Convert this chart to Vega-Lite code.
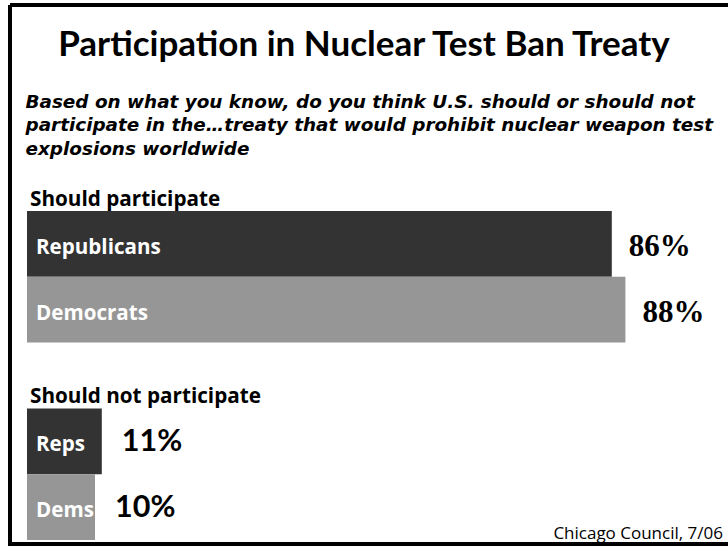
{
  "$schema": "https://vega.github.io/schema/vega-lite/v6.json",
  "width": 718,
  "height": 539,
  "autosize": {"type": "none"},
  "padding": {"left": 10, "top": 5, "right": 0, "bottom": 6},
  "background": "white",
  "view": {"stroke": "black", "strokeWidth": 4, "strokeDash": [718, 539, 1257, 0], "strokeDashOffset": 0},
  "title": {
    "text": "Participation in Nuclear Test Ban Treaty",
    "subtitle": [
      "Based on what you know, do you think U.S. should or should not",
      "participate in the…treaty that would prohibit nuclear weapon test",
      "explosions worldwide"
    ],
    "anchor": "start",
    "frame": "group",
    "orient": "top",
    "offset": -153,
    "font": "Lato",
    "fontSize": 35,
    "fontWeight": "bold",
    "color": "black",
    "subtitleFont": "DejaVu Sans",
    "subtitleFontSize": 18.4,
    "subtitleFontWeight": "bold",
    "subtitleFontStyle": "italic",
    "subtitleColor": "black",
    "subtitleLineHeight": 23.5,
    "subtitlePadding": 29.5,
    "dx": 15.5,
    "encoding": {"align": {"value": "center"}, "dx": {"value": 354}}
  },
  "data": {
    "values": [
      {"row": "Republicans", "party": "Rep", "section": "Should participate", "share": 0.86},
      {"row": "Democrats", "party": "Dem", "section": "Should participate", "share": 0.88},
      {"row": "Reps", "party": "Rep", "section": "Should not participate", "share": 0.11},
      {"row": "Dems", "party": "Dem", "section": "Should not participate", "share": 0.10}
    ]
  },
  "encoding": {
    "y": {
      "field": "row",
      "type": "nominal",
      "scale": {
        "domain": ["Republicans", "Democrats", "gap", "Reps", "Dems"],
        "range": [206, 535],
        "paddingInner": 0,
        "paddingOuter": 0
      },
      "axis": null
    }
  },
  "layer": [
    {
      "mark": {"type": "bar"},
      "encoding": {
        "x": {
          "field": "share",
          "type": "quantitative",
          "scale": {"domain": [0, 1], "range": [17, 697]},
          "axis": null
        },
        "color": {
          "field": "party",
          "type": "nominal",
          "scale": {"domain": ["Rep", "Dem"], "range": ["#333333", "#969696"]},
          "legend": null
        }
      }
    },
    {
      "mark": {"type": "text", "align": "left", "baseline": "alphabetic", "dx": 9, "dy": 10, "font": "Open Sans", "fontSize": 20.6, "fontWeight": "bold", "color": "white"},
      "encoding": {
        "x": {"datum": 0, "type": "quantitative"},
        "text": {"field": "row"}
      }
    },
    {
      "transform": [{"filter": "datum.section == 'Should participate'"}],
      "mark": {"type": "text", "align": "left", "baseline": "alphabetic", "dx": 17, "dy": 12, "font": "Liberation Serif", "fontSize": 31, "fontWeight": "bold", "color": "black"},
      "encoding": {
        "x": {"field": "share", "type": "quantitative"},
        "text": {"field": "share", "type": "quantitative", "format": ".0%"}
      }
    },
    {
      "transform": [{"filter": "datum.section == 'Should not participate'"}],
      "mark": {"type": "text", "align": "left", "baseline": "alphabetic", "dx": 20, "dy": 10, "font": "Lato", "fontSize": 30.5, "fontWeight": "bold", "color": "black"},
      "encoding": {
        "x": {"field": "share", "type": "quantitative"},
        "text": {"field": "share", "type": "quantitative", "format": ".0%"}
      }
    },
    {
      "transform": [{"filter": "datum.row == 'Republicans' || datum.row == 'Reps'"}],
      "mark": {"type": "text", "align": "left", "baseline": "alphabetic", "dx": 3, "dy": -38, "font": "Open Sans", "fontSize": 20.7, "fontWeight": "bold", "color": "black"},
      "encoding": {
        "x": {"datum": 0, "type": "quantitative"},
        "text": {"field": "section"}
      }
    },
    {
      "data": {"values": [{"source": "Chicago Council, 7/06"}]},
      "mark": {"type": "text", "align": "right", "baseline": "alphabetic", "dx": 16, "dy": 32, "font": "Open Sans", "fontSize": 17, "color": "black"},
      "encoding": {
        "x": {"datum": 1, "type": "quantitative"},
        "y": {"datum": "Dems", "type": "nominal"},
        "text": {"field": "source"}
      }
    }
  ]
}
